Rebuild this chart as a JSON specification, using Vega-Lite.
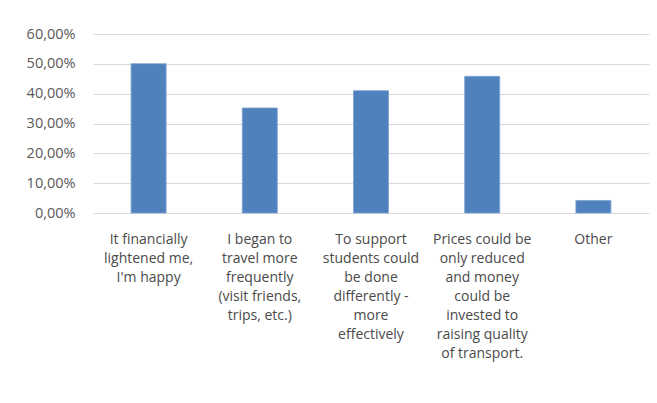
{
  "$schema": "https://vega.github.io/schema/vega-lite/v6.json",
  "width": 556,
  "height": 179,
  "autosize": "none",
  "padding": {"left": 93, "top": 34, "right": 8, "bottom": 190},
  "background": "white",
  "config": {
    "view": {"stroke": null},
    "font": "Open Sans"
  },
  "data": {
    "values": [
      {"answer": "It financially\nlightened me,\nI'm happy", "share": 0.5005},
      {"answer": "I began to\ntravel more\nfrequently\n(visit friends,\ntrips, etc.)", "share": 0.352},
      {"answer": "To support\nstudents could\nbe done\ndifferently -\nmore\neffectively", "share": 0.41},
      {"answer": "Prices could be\nonly reduced\nand money\ncould be\ninvested to\nraising quality\nof transport.", "share": 0.458},
      {"answer": "Other", "share": 0.042}
    ]
  },
  "mark": {"type": "bar", "color": "#4f81bd", "stroke": "#7ea3d2", "strokeWidth": 0.8},
  "encoding": {
    "x": {
      "field": "answer",
      "type": "nominal",
      "sort": null,
      "scale": {"paddingInner": 0.685, "paddingOuter": 0.3425},
      "axis": {
        "title": null,
        "labelAngle": 0,
        "labelExpr": "split(datum.value, '\\n')",
        "labelFontSize": 14,
        "labelColor": "#4a4a4a",
        "labelLineHeight": 19,
        "labelPadding": 19,
        "ticks": false,
        "domain": false,
        "labelLimit": 200
      }
    },
    "y": {
      "field": "share",
      "type": "quantitative",
      "scale": {"domain": [0, 0.6]},
      "axis": {
        "title": null,
        "values": [0, 0.1, 0.2, 0.3, 0.4, 0.5, 0.6],
        "labelExpr": "replace(format(datum.value, '.2%'), '.', ',')",
        "labelFontSize": 14.5,
        "labelColor": "#595959",
        "labelPadding": 18,
        "ticks": false,
        "domain": false,
        "gridColor": "#d9d9d9",
        "gridWidth": 1
      }
    }
  }
}
